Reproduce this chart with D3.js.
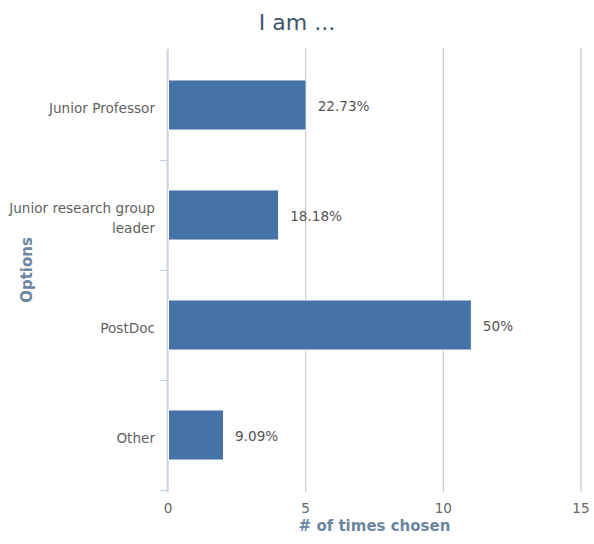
<!doctype html>
<html>
<head>
<meta charset="utf-8">
<style>
  body { margin: 0; background: #fff; }
  svg { font-family: "DejaVu Sans", Verdana, sans-serif; }
</style>
<script src="https://d3js.org/d3.v7.min.js"></script>
</head>
<body>
<svg id="chart" width="594" height="544"></svg>
<script>
// values
var categories = ["Junior Professor", "Junior research group leader", "PostDoc", "Other"];
var counts = [5, 4, 11, 2];
var percentLabels = ["22.73%", "18.18%", "50%", "9.09%"];
var xTicks = [0, 5, 10, 15];

var data = categories.map(function(c, i) {
  return { name: c, value: counts[i], label: percentLabels[i] };
});

var svg = d3.select("#chart");
var plotL = 168, plotR = 581, plotT = 50, plotB = 490;

var x = d3.scaleLinear().domain([0, 15]).range([plotL, plotR]);
var y = d3.scaleBand().domain(categories).range([plotT, plotB])
          .paddingInner(0.545).paddingOuter(0.2725);

// title
svg.append("text")
   .attr("x", 297).attr("y", 30)
   .attr("text-anchor", "middle")
   .attr("font-size", "22px")
   .attr("fill", "#3e576f")
   .text("I am ...");

// vertical grid lines
svg.selectAll(".grid")
   .data(xTicks)
   .enter().append("line")
   .attr("x1", function(d) { return x(d); })
   .attr("x2", function(d) { return x(d); })
   .attr("y1", plotT - 2).attr("y2", plotB + 2)
   .attr("stroke", "#c0c0c0")
   .attr("stroke-width", 1);

// x tick labels
svg.selectAll(".xlab")
   .data(xTicks)
   .enter().append("text")
   .attr("x", function(d) { return x(d); })
   .attr("y", 513)
   .attr("text-anchor", "middle")
   .attr("font-size", "13.6px")
   .attr("fill", "#666")
   .text(function(d) { return d; });

svg.append("text")
   .attr("x", (plotL + plotR) / 2).attr("y", 531)
   .attr("text-anchor", "middle")
   .attr("font-size", "15px")
   .attr("font-weight", "bold")
   .attr("fill", "#6d869f")
   .text("# of times chosen");

// y axis line and category ticks
svg.append("line")
   .attr("x1", plotL - 1).attr("x2", plotL - 1)
   .attr("y1", plotT).attr("y2", plotB + 2)
   .attr("stroke", "#c0d0e0").attr("stroke-width", 1);

var step = y.step();
var bounds = categories.map(function(c, i) { return plotT + step * (i + 1); });
svg.selectAll(".ytick")
   .data(bounds)
   .enter().append("line")
   .attr("x1", plotL - 8).attr("x2", plotL - 1)
   .attr("y1", function(d) { return d + 0.5; })
   .attr("y2", function(d) { return d + 0.5; })
   .attr("stroke", "#c0d0e0");

// category labels, wrap long ones
var catLabels = svg.selectAll(".ylab")
   .data(data)
   .enter().append("text")
   .attr("text-anchor", "end")
   .attr("font-size", "13.6px")
   .attr("fill", "#5f5f5f");

catLabels.each(function(d) {
  var t = d3.select(this);
  var lines = d.name.length > 20 ? ["Junior research group", "leader"] : [d.name];
  var cy = y(d.name) + y.bandwidth() / 2;
  var y0 = cy - (lines.length - 1) * 10 + 8;
  lines.forEach(function(l, i) {
    t.append("tspan").attr("x", 155).attr("y", y0 + i * 20).text(l);
  });
});

svg.append("text")
   .attr("transform", "translate(32," + ((plotT + plotB) / 2) + ") rotate(-90)")
   .attr("text-anchor", "middle")
   .attr("font-size", "15px")
   .attr("font-weight", "bold")
   .attr("fill", "#6d869f")
   .text("Options");

// bars
svg.selectAll(".bar")
   .data(data)
   .enter().append("rect")
   .attr("x", x(0) + 0.5)
   .attr("y", function(d) { return y(d.name); })
   .attr("width", function(d) { return x(d.value) - x(0); })
   .attr("height", y.bandwidth())
   .attr("fill", "#4572a7")
   .attr("stroke", "#ffffff")
   .attr("stroke-width", 1);

// value labels
svg.selectAll(".val")
   .data(data)
   .enter().append("text")
   .attr("x", function(d) { return x(d.value) + 12; })
   .attr("y", function(d) { return y(d.name) + y.bandwidth() / 2 + 6; })
   .attr("font-size", "13.6px")
   .attr("fill", "#555")
   .text(function(d) { return d.label; });
</script>
</body>
</html>
